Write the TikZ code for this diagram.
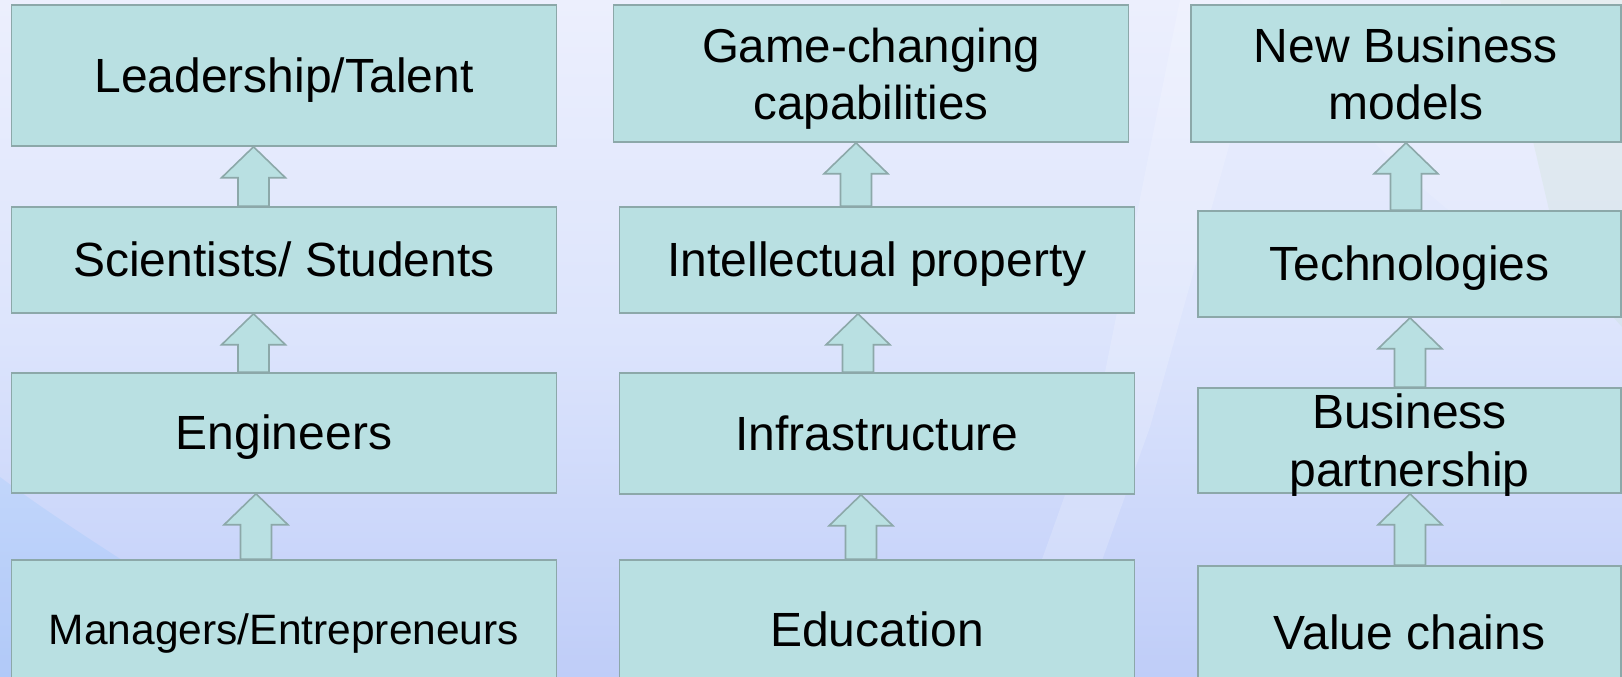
\documentclass[tikz,border=0pt]{standalone}
\usepackage{fontspec}
\usetikzlibrary{calc}
\setmainfont{Liberation Sans}
\definecolor{bgtop}{HTML}{ECEFFD}
\definecolor{bgmid}{HTML}{DCE4FC}
\definecolor{bgbot}{HTML}{BFCDF8}
\definecolor{boxfill}{HTML}{B9E0E2}
\definecolor{boxline}{HTML}{8CA8A9}
\tikzset{
  box/.style={draw=boxline, fill=boxfill, line width=1.6pt, inner sep=0pt, align=center, text=black},
  one/.style={text height=34pt, text depth=0pt},
  big/.style={font=\fontsize{48}{58}\selectfont},
  blockarrow/.style={draw=boxline, fill=boxfill, line width=1.6pt, line join=miter}
}
\newcommand{\twolines}[3]{\raisebox{#1}[0pt][0pt]{\begin{tabular}[t]{@{}c@{}}#2\\#3\end{tabular}}}
\newcommand{\blockarr}[3]{%
  \draw[blockarrow] let \p1=(#2.north), \p2=(#3.south) in
    (#1-15.5,\y1) -- (#1-15.5,\y2-31) -- (#1-32,\y2-31) -- (#1,\y2)
    -- (#1+32,\y2-31) -- (#1+15.5,\y2-31) -- (#1+15.5,\y1) -- cycle;}
\begin{document}
\begin{tikzpicture}[x=1pt,y=1pt]
\useasboundingbox (0,0) rectangle (1622,677);
% background
\shade[top color=bgtop, bottom color=bgbot, middle color=bgmid] (0,0) rectangle (1622,677);
\fill[white, opacity=0.18] (1180,677) -- (1270,677) -- (1150,250) -- (1060,0) -- (1000,0) -- (1100,280) -- cycle;
\fill[white, opacity=0.12] (1240,677) .. controls (1400,500) and (1500,400) .. (1622,380) -- (1622,677) -- cycle;
\fill[yellow!40!green, opacity=0.06] (1500,677) -- (1622,677) -- (1622,350) -- (1560,420) -- cycle;
\fill[blue!40!cyan, opacity=0.07] (0,200) .. controls (80,140) and (200,70) .. (300,0) -- (0,0) -- cycle;
% column 1
\node[box, big, one, minimum width=545pt, minimum height=141pt] (lead) at (284,601.5) {Leadership/Talent};
\node[box, big, one, minimum width=545pt, minimum height=106pt] (sci)  at (284,417) {Scientists/ Students};
\node[box, big, one, minimum width=545pt, minimum height=120pt] (eng)  at (284,244) {Engineers};
\node[box, font=\fontsize{42.5}{50}\selectfont, text height=30pt, text depth=0pt, minimum width=545pt, minimum height=140pt] (man) at (284,47) {Managers/Entrepreneurs};
% column 2
\node[box, font=\fontsize{47.5}{57}\selectfont, minimum width=515pt, minimum height=137pt] (game) at (871,603.5) {\twolines{10.5pt}{Game-changing}{capabilities}};
\node[box, big, one, minimum width=515pt, minimum height=106pt] (ip)   at (877,417) {Intellectual property};
\node[box, big, one, minimum width=515pt, minimum height=121pt] (infra) at (877,243.5) {Infrastructure};
\node[box, big, one, minimum width=515pt, minimum height=140pt] (edu)  at (877,47) {Education};
% column 3
\node[box, font=\fontsize{48}{57}\selectfont, minimum width=430pt, minimum height=137pt] (nbm) at (1406,603.5) {\twolines{10.5pt}{New Business}{models}};
\node[box, big, one, minimum width=423pt, minimum height=106pt] (tech) at (1409.5,413) {Technologies};
\node[box, big, minimum width=423pt, minimum height=105pt] (bp) at (1409.5,236.5) {\twolines{11.5pt}{Business}{partnership}};
\node[box, big, one, minimum width=423pt, minimum height=134pt] (vc) at (1409.5,44) {Value chains};
% arrows
\blockarr{253.5}{sci}{lead}
\blockarr{253.5}{eng}{sci}
\blockarr{256}{man}{eng}
\blockarr{856}{ip}{game}
\blockarr{858}{infra}{ip}
\blockarr{861}{edu}{infra}
\blockarr{1406}{tech}{nbm}
\blockarr{1410}{bp}{tech}
\blockarr{1410}{vc}{bp}
\end{tikzpicture}
\end{document}
